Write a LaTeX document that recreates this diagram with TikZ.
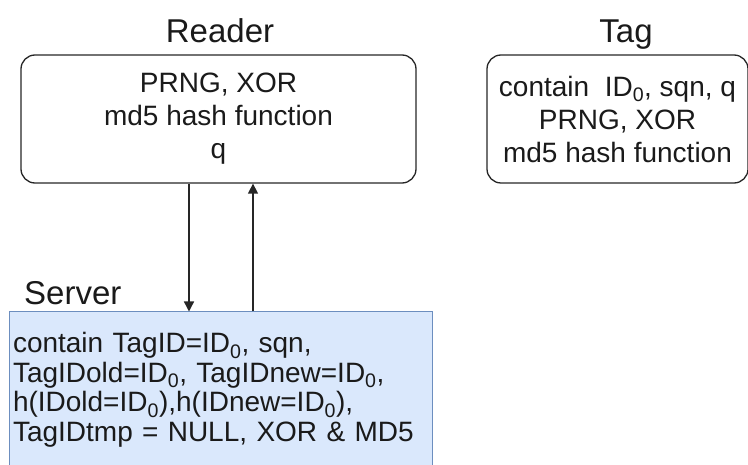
\documentclass[tikz,border=0pt]{standalone}
\usepackage{fontspec}
\setmainfont{Liberation Sans}
\usepackage{xcolor}
\usepackage{tikz}
\usetikzlibrary{arrows.meta,positioning}
\definecolor{ink}{HTML}{1A1A1A}
\definecolor{edge}{HTML}{262626}
\definecolor{srvfill}{HTML}{DAE8FC}
\definecolor{srvedge}{HTML}{6C8EBF}
\tikzset{
  box/.style={draw=edge, line width=1.3pt, rounded corners=14pt, align=center, text=ink,
    font=\fontsize{28}{33}\selectfont, inner sep=0pt},
  srv/.style={draw=srvedge, fill=srvfill, line width=1pt, align=left, text=ink,
    font=\fontsize{28}{29.5}\selectfont, inner xsep=4pt, inner ysep=0pt},
  lab/.style={text=ink, font=\fontsize{33}{37}\selectfont, inner sep=0pt},
  flow/.style={draw=edge, line width=1.4pt, -{Triangle[length=10pt,width=10pt]}},
}

\begin{document}
\begin{tikzpicture}[x=1pt,y=-1pt]
\useasboundingbox (0,0) rectangle (748,465);
\node[box, minimum width=395pt, minimum height=128pt] (reader) at (218.5,119)
  {PRNG, XOR\\ md5 hash function\\ q};
\node[box, minimum width=261pt, minimum height=128pt] (tag) at (617.5,119)
  {contain\ \ ID\textsubscript{0}, sqn, q\\ PRNG, XOR\\ md5 hash function};
\node[srv, minimum width=423pt, minimum height=156pt, text width=415pt] (server) at (220.5,390)
  {contain TagID=ID\textsubscript{0}, sqn,\\
   TagIDold=ID\textsubscript{0}, TagIDnew=ID\textsubscript{0},\\
   h(IDold=ID\textsubscript{0}),h(IDnew=ID\textsubscript{0}),\\
   TagIDtmp = NULL, XOR \& MD5};
% titles
\node[lab, anchor=base] (readerlab) at (220,43) {Reader};
\node[lab, anchor=base] (taglab) at (626,43) {Tag};
\node[lab, anchor=base west] (serverlab) at (24,305) {Server};
% messages
\draw[flow] ([xshift=-29.5pt]reader.south) -- ([xshift=-29.5pt]reader.south |- server.north);
\draw[flow] ([xshift=34.5pt]reader.south |- server.north) -- ([xshift=34.5pt]reader.south);
\end{tikzpicture}
\end{document}
